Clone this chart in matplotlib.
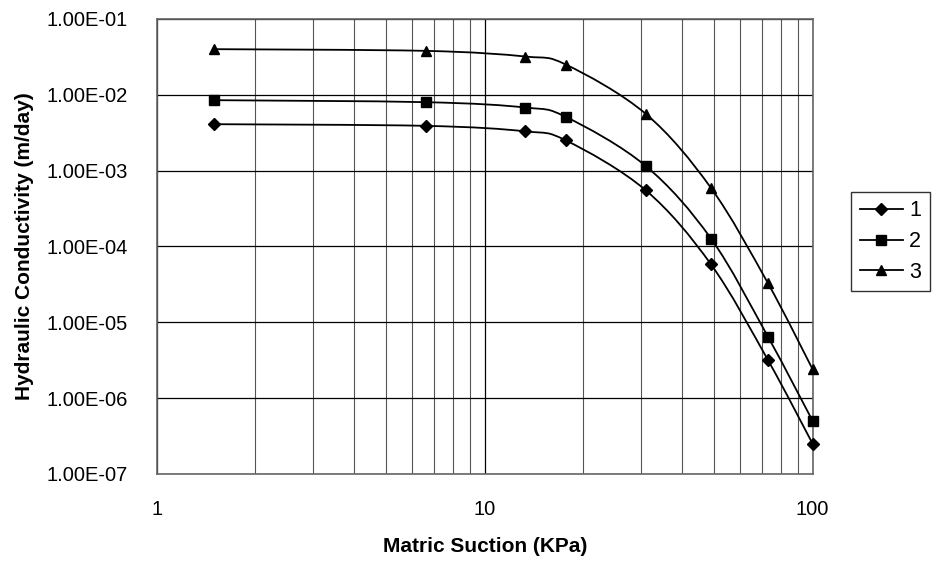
import numpy as np
import matplotlib.pyplot as plt
from matplotlib.path import Path
from matplotlib.patches import PathPatch
from matplotlib.lines import Line2D
from matplotlib.ticker import FixedLocator, FuncFormatter, LogLocator, NullFormatter

plt.rcParams['font.family'] = ['Liberation Sans', 'DejaVu Sans']

# matric suction (KPa)
suction = [1.5, 6.6, 13.3, 17.7, 31, 49, 73, 100]

# hydraulic conductivity (m/day) for each curve
k1 = [4.1e-3, 3.9e-3, 3.3e-3, 2.5e-3, 5.5e-4, 5.8e-5, 3.2e-6, 2.5e-7]
k2 = [8.5e-3, 8.0e-3, 6.8e-3, 5.1e-3, 1.15e-3, 1.27e-4, 6.5e-6, 5.0e-7]
k3 = [4.0e-2, 3.8e-2, 3.2e-2, 2.5e-2, 5.6e-3, 5.9e-4, 3.3e-5, 2.4e-6]

labels = ['1', '2', '3']
markers = ['D', 's', '^']
marker_sizes = [6, 6.5, 7.5]


def smooth_path(x, y):
    # Excel-like smoothed line: Catmull-Rom bezier segments in log space
    lx = np.log10(x)
    ly = np.log10(y)
    pts = np.column_stack([lx, ly])
    n = len(pts)
    verts = [pts[0]]
    codes = [Path.MOVETO]
    for i in range(n - 1):
        p0 = pts[i - 1] if i > 0 else pts[i]
        p1 = pts[i]
        p2 = pts[i + 1]
        p3 = pts[i + 2] if i + 2 < n else pts[i + 1]
        c1 = p1 + (p2 - p0) / 6.0
        c2 = p2 - (p3 - p1) / 6.0
        verts += [c1, c2, p2]
        codes += [Path.CURVE4] * 3
    verts = 10 ** np.array(verts)
    return Path(verts, codes)


fig = plt.figure(figsize=(9.33, 5.62), dpi=100)
ax = fig.add_axes([0.168, 0.1566, 0.703, 0.8096])

ax.set_xscale('log')
ax.set_yscale('log')
ax.set_xlim(1, 100)
ax.set_ylim(1e-7, 1e-1)

handles = []
for yk, m, ms, lab in zip([k1, k2, k3], markers, marker_sizes, labels):
    patch = PathPatch(smooth_path(suction, yk), facecolor='none',
                      edgecolor='black', lw=1.3, zorder=3, clip_on=False)
    ax.add_patch(patch)
    ax.plot(suction, yk, linestyle='none', marker=m, markersize=ms,
            color='black', zorder=4, clip_on=False)
    handles.append(Line2D([], [], color='black', lw=1.3, marker=m,
                          markersize=ms, label=lab))

# grid
ax.xaxis.set_major_locator(FixedLocator([1, 10, 100]))
ax.xaxis.set_minor_locator(LogLocator(base=10, subs=np.arange(2, 10)))
ax.xaxis.set_minor_formatter(NullFormatter())
ax.xaxis.set_major_formatter(FuncFormatter(lambda v, p: '%g' % v))
ax.yaxis.set_major_locator(FixedLocator([1e-7, 1e-6, 1e-5, 1e-4, 1e-3, 1e-2, 1e-1]))
ax.yaxis.set_minor_locator(FixedLocator([]))
ax.yaxis.set_major_formatter(FuncFormatter(lambda v, p: '%.2E' % v))

ax.grid(True, which='major', color='black', lw=0.9)
ax.grid(True, which='minor', axis='x', color='#555555', lw=0.8)
ax.tick_params(which='both', length=0, labelsize=14.5)
ax.tick_params(axis='y', pad=21)
ax.tick_params(axis='x', pad=19)

for s in ax.spines.values():
    s.set_color('#666666')
    s.set_linewidth(1.2)

ax.set_xlabel('Matric Suction (KPa)', fontsize=15, fontweight='bold', labelpad=13)
ax.set_ylabel('Hydraulic Conductivity (m/day)', fontsize=15, fontweight='bold', labelpad=9)

fig.legend(handles=handles, loc='center left', bbox_to_anchor=(0.912, 0.570),
           fontsize=15.5, frameon=True, fancybox=False, edgecolor='black',
           handlelength=2.0, handletextpad=0.3, labelspacing=0.45,
           borderpad=0.4, borderaxespad=0)

fig.savefig('out.png', dpi=100)
